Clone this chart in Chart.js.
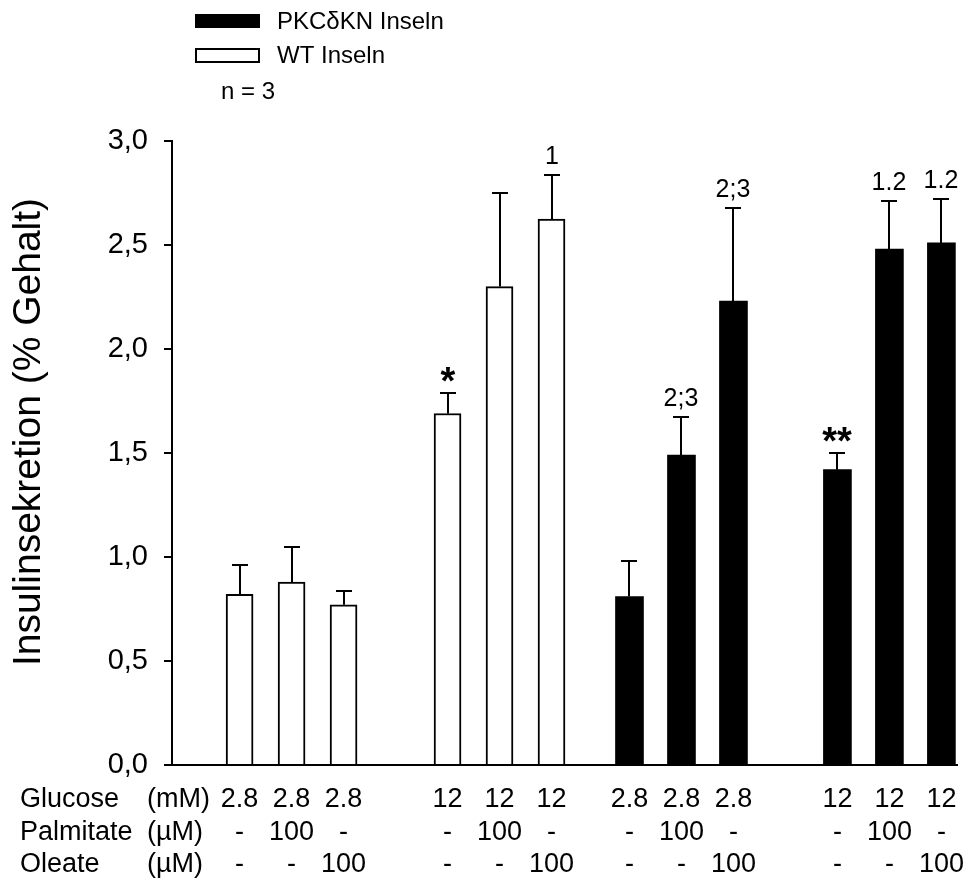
<!DOCTYPE html>
<html>
<head>
<meta charset="utf-8">
<script src="https://cdn.jsdelivr.net/npm/chart.js@4/dist/chart.umd.min.js"></script>
<style>
  html, body { margin: 0; padding: 0; background: #fff; }
  #wrap { width: 963px; height: 879px; }
</style>
</head>
<body>
<div id="wrap"><canvas id="c" width="963" height="879"></canvas></div>
<script>
// ---- data ----
const seriesLabels = ['PKCδKN Inseln', 'WT Inseln'];
const wtMean   = [0.82, 0.88, 0.77, 1.69, 2.30, 2.625];
const wtSem    = [0.14, 0.17, 0.065, 0.10, 0.45, 0.21];
const pkcMean  = [0.81, 1.49, 2.23, 1.42, 2.48, 2.51];
const pkcSem   = [0.17, 0.185, 0.45, 0.08, 0.23, 0.21];
const wtMarks  = ['', '', '', '*', '', '1'];
const pkcMarks = ['', '2;3', '2;3', '**', '1.2', '1.2'];
const glucose   = ['2.8', '2.8', '2.8', '12', '12', '12', '2.8', '2.8', '2.8', '12', '12', '12'];
const palmitate = ['-', '100', '-', '-', '100', '-', '-', '100', '-', '-', '100', '-'];
const oleate    = ['-', '-', '100', '-', '-', '100', '-', '-', '100', '-', '-', '100'];
const rowNames  = ['Glucose', 'Palmitate', 'Oleate'];
const rowUnits  = ['(mM)', '(µM)', '(µM)'];
const sampleNote = 'n = 3';
const yTitle = 'Insulinsekretion (% Gehalt)';

// ---- layout ----
const FONT = '"Liberation Sans", Arial, Helvetica, sans-serif';
const groupStart = [0, 4, 7.5, 11.5];          // slot where each group of three bars begins
const slotOf = (g, j) => groupStart[g] + j;
const AREA = { left: 172, top: 141, right: 957, bottom: 765 };

const wtPoints  = wtMean.map((v, i) => ({ x: slotOf(Math.floor(i / 3), i % 3), y: v }));
const pkcPoints = pkcMean.map((v, i) => ({ x: slotOf(2 + Math.floor(i / 3), i % 3), y: v }));

// error bars, significance marks, legend, axis title and condition table
const decor = {
  id: 'decor',
  afterDatasetsDraw(chart) {
    const ctx = chart.ctx, y = chart.scales.y;
    ctx.save();
    ctx.strokeStyle = '#000';
    ctx.fillStyle = '#000';
    ctx.lineWidth = 2;
    chart.data.datasets.forEach((ds, di) => {
      const meta = chart.getDatasetMeta(di);
      meta.data.forEach((bar, i) => {
        const top = Math.round(y.getPixelForValue(ds.data[i].y + ds.sem[i]));
        const x = Math.round(bar.x);
        ctx.beginPath();
        ctx.moveTo(x, bar.y);
        ctx.lineTo(x, top);
        ctx.moveTo(x - 8, top);
        ctx.lineTo(x + 8, top);
        ctx.stroke();
        const m = ds.marks[i];
        if (!m) return;
        ctx.textAlign = 'center';
        ctx.textBaseline = 'alphabetic';
        if (m.startsWith('*')) {
          ctx.font = 'bold 38px ' + FONT;
          ctx.fillText(m, x, top + 1);
        } else {
          ctx.font = '25px ' + FONT;
          ctx.fillText(m, x, top - 11);
        }
      });
    });
    ctx.restore();
  },
  afterDraw(chart) {
    const ctx = chart.ctx, xs = chart.scales.x, area = chart.chartArea;
    ctx.save();
    ctx.fillStyle = '#000';
    ctx.strokeStyle = '#000';

    // legend
    const order = [1, 0];
    order.forEach((di, k) => {
      const ds = chart.data.datasets[di];
      const cy = 21 + k * 34;
      if (ds.backgroundColor === '#000') {
        ctx.fillStyle = '#000';
        ctx.fillRect(195, cy - 7, 65, 14);
      } else {
        ctx.lineWidth = 2;
        ctx.strokeRect(196, cy - 6, 63, 13);
      }
      ctx.fillStyle = '#000';
      ctx.font = '24px ' + FONT;
      ctx.textAlign = 'left';
      ctx.textBaseline = 'middle';
      ctx.fillText(ds.label, 277, cy + 1);
    });
    ctx.fillText(sampleNote, 221, 92);

    // y axis title
    ctx.save();
    ctx.translate(29, 432);
    ctx.rotate(-Math.PI / 2);
    ctx.font = '39px ' + FONT;
    ctx.textAlign = 'center';
    ctx.textBaseline = 'middle';
    ctx.fillText(yTitle, 0, 0);
    ctx.restore();

    // condition table under the bars
    const rows = [glucose, palmitate, oleate];
    const slots = [];
    for (let i = 0; i < 12; i++) slots.push(slotOf(Math.floor(i / 3), i % 3));
    ctx.font = '27px ' + FONT;
    ctx.textBaseline = 'alphabetic';
    rows.forEach((row, r) => {
      const base = area.bottom + 42 + r * 32.5;
      ctx.textAlign = 'left';
      ctx.fillText(rowNames[r], 20, base);
      ctx.fillText(rowUnits[r], 147, base);
      ctx.textAlign = 'center';
      row.forEach((txt, i) => {
        ctx.fillText(txt, xs.getPixelForValue(slots[i]), base);
      });
    });
    ctx.restore();
  }
};

new Chart(document.getElementById('c'), {
  type: 'bar',
  data: {
    datasets: [
      {
        label: seriesLabels[1],
        data: wtPoints,
        sem: wtSem,
        marks: wtMarks,
        backgroundColor: '#fff',
        borderColor: '#000',
        borderWidth: 2,
        borderSkipped: 'start',
        barThickness: 27,
        grouped: false
      },
      {
        label: seriesLabels[0],
        data: pkcPoints,
        sem: pkcSem,
        marks: pkcMarks,
        backgroundColor: '#000',
        borderWidth: 0,
        barThickness: 28,
        grouped: false
      }
    ]
  },
  options: {
    responsive: false,
    animation: false,
    devicePixelRatio: 1,
    layout: { padding: { left: 0, top: AREA.top, right: 963 - AREA.right, bottom: 0 } },
    plugins: { legend: { display: false }, tooltip: { enabled: false } },
    scales: {
      x: {
        type: 'linear',
        min: -1.3,
        max: 13.8,
        offset: false,
        z: 1,
        grid: { display: false },
        ticks: { display: false },
        border: { display: true, color: '#000', width: 2 },
        afterFit(s) { s.height = 879 - AREA.bottom; }
      },
      y: {
        min: 0,
        max: 3,
        ticks: {
          stepSize: 0.5,
          color: '#000',
          padding: 16,
          font: { family: FONT, size: 29 },
          callback: v => v.toFixed(1).replace('.', ',')
        },
        grid: { drawOnChartArea: false, drawTicks: true, tickLength: 8, lineWidth: 2, color: '#000' },
        border: { display: true, color: '#000', width: 2 },
        afterFit(s) { s.width = AREA.left; }
      }
    }
  },
  plugins: [decor]
});
</script>
</body>
</html>
